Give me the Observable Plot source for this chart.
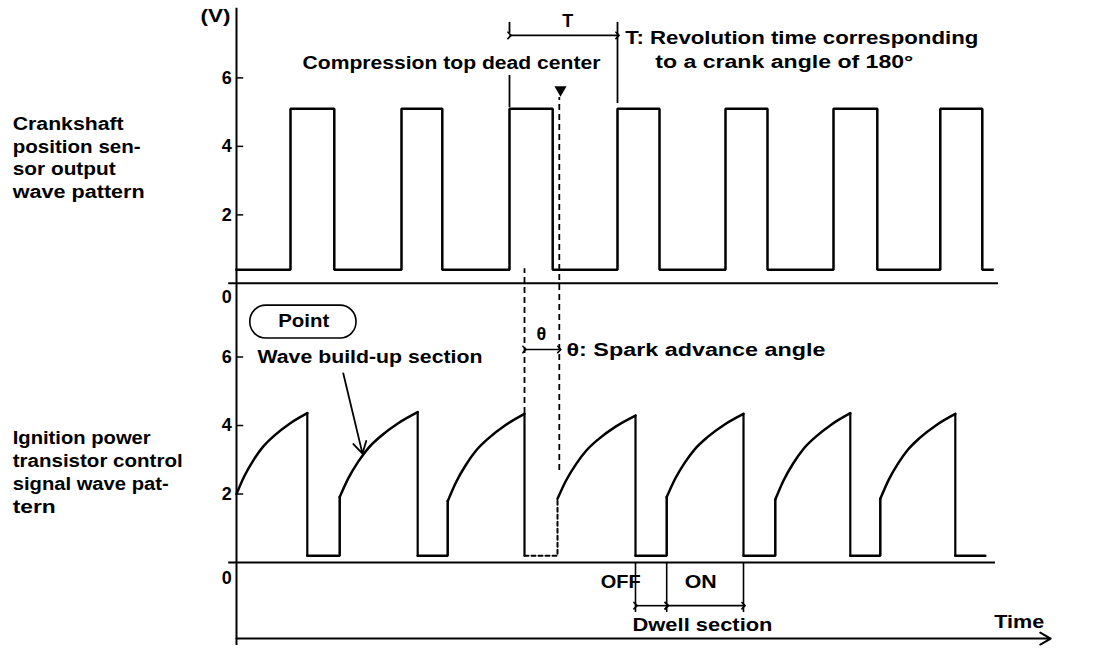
<!DOCTYPE html>
<html><head><meta charset="utf-8">
<script src="https://cdn.jsdelivr.net/npm/d3@7"></script>
<script src="https://cdn.jsdelivr.net/npm/@observablehq/plot@0.6"></script>
<style>body{margin:0;background:#fff}</style>
</head><body><div id="chart"></div>
<script>
// ---- data (time in crank-angle degrees, voltage in V) ----
const crankRise = [90, 275, 455, 635, 815, 995, 1173];
const crankFall = [163, 343, 527, 705, 885, 1068, 1243];
const crankEnd = 1260;
const crankLow = 0.4;
const crankHigh = 5.1;

const ignDrop = [118, 302, 480, 665, 845, 1023, 1198];
const ignRise = [172, 352, 535, 717, 898, 1073];
const ignEnd = 1248;
const ignRampStart = [2.0, 1.91, 1.79, 1.86, 1.91, 1.84, 1.86];
const ignPeak = [4.36, 4.39, 4.34, 4.29, 4.34, 4.36, 4.34];
const ignLow = 0.2;
const rampShapeT = [0, 0.11, 0.24, 0.37, 0.53, 0.75, 1];
const rampShapeV = [0, 0.22, 0.42, 0.58, 0.72, 0.87, 1];

const voltTicks = [2, 4, 6];
const tickLabels = ["2", "4", "6"];
const topOffset = 8.15;   // vertical offset of the upper panel (in V units)
const dashedCycle = 2;    // dwell low drawn dashed

// ---- build series ----
const crank = [{t: 0, v: crankLow}];
crankRise.forEach((r, i) => {
  crank.push({t: r, v: crankLow}, {t: r, v: crankHigh}, {t: crankFall[i], v: crankHigh}, {t: crankFall[i], v: crankLow});
});
crank.push({t: crankEnd, v: crankLow});
crank.forEach(d => d.y = d.v + topOffset);

const ramps = [];
ignDrop.forEach((end, i) => {
  const start = i === 0 ? 0 : ignRise[i - 1];
  rampShapeT.forEach((f, j) => ramps.push({ramp: i, t: start + f * (end - start), v: ignRampStart[i] + rampShapeV[j] * (ignPeak[i] - ignRampStart[i])}));
});
const drops = [], lows = [];
ignDrop.forEach((d, i) => {
  const next = i < ignRise.length ? ignRise[i] : ignEnd;
  drops.push({seg: i, t: d, v: ignPeak[i]}, {seg: i, t: d, v: ignLow});
  const low = [{seg: i, t: d, v: ignLow}, {seg: i, t: next, v: ignLow}];
  if (i < ignRise.length) low.push({seg: i, t: next, v: ignRampStart[i + 1]});
  low.forEach(p => { p.dashed = (i === dashedCycle); lows.push(p); });
});

const tickY = voltTicks.map(v => v + topOffset).concat(voltTicks);
const tickT = tickLabels.concat(tickLabels);

const F = 18;
const txt = (text, x, y, o = {}) => Plot.text([text], {x, y, text: d => d, textAnchor: "start", fontSize: F, fontWeight: "bold", fill: "black", ...o});

const plot = Plot.plot({
  width: 1120, height: 650, margin: 0,
  x: {domain: [-393.33, 1473.33], axis: null},
  y: {domain: [-2.569, 16.409], axis: null},
  style: {fontFamily: "'Liberation Sans', Arial, sans-serif", background: "#fff", color: "#000"},
  marks: [
    // axes
    Plot.ruleX([0], {y1: -2.42, y2: 16.18, strokeWidth: 2}),
    Plot.ruleY([topOffset], {x1: -13, x2: 1270, strokeWidth: 2}),
    Plot.ruleY([0], {x1: -13, x2: 1265, strokeWidth: 2}),
    Plot.ruleY(tickY, {x1: 0, x2: 12, strokeWidth: 1.5}),
    Plot.text(tickT, {x: -8, y: (d, i) => tickY[i], text: d => d, textAnchor: "end", fontSize: F, fontWeight: "bold"}),
    Plot.text(["0", "0"], {x: -8, y: [topOffset - 0.41, -0.47], text: d => d, textAnchor: "end", fontSize: F, fontWeight: "bold"}),
    Plot.arrow([0], {x1: 0, y1: -2.22, x2: 1357, y2: -2.22, headLength: 9, strokeWidth: 2}),

    // waveforms
    Plot.line(crank, {x: "t", y: "y", strokeWidth: 2.5, strokeLinejoin: "miter", strokeLinecap: "square"}),
    Plot.line(drops, {x: "t", y: "v", z: "seg", strokeWidth: 2.2}),
    Plot.line(lows.filter(d => !d.dashed), {x: "t", y: "v", z: "seg", strokeWidth: 2.5, strokeLinejoin: "miter"}),
    Plot.line(lows.filter(d => d.dashed), {x: "t", y: "v", z: "seg", strokeWidth: 2, strokeDasharray: "4,3"}),
    Plot.line(ramps, {x: "t", y: "v", z: "ramp", curve: "monotone-x", strokeWidth: 2.5}),

    // dashed reference lines
    Plot.ruleX([480], {y1: 4.35, y2: 8.58, strokeWidth: 1.8, strokeDasharray: "6,4"}),
    Plot.ruleX([538], {y1: 2.69, y2: 13.58, strokeWidth: 1.8, strokeDasharray: "6,4"}),
    Plot.dot([0], {x: 540, y: 13.8, symbol: "triangle", rotate: 180, r: 4.5, fill: "black"}),

    // T bracket
    Plot.ruleX([455], {y1: 15.45, y2: 15.77, strokeWidth: 1.8}),
    Plot.ruleX([455], {y1: 13.28, y2: 14.22, strokeWidth: 1.8}),
    Plot.ruleX([635], {y1: 13.40, y2: 15.77, strokeWidth: 1.8}),
    Plot.link([0], {x1: 455, x2: 635, y1: 15.39, y2: 15.39, markerStart: "arrow", markerEnd: "arrow", strokeWidth: 1.6}),

    // theta
    Plot.link([0], {x1: 480, x2: 538, y1: 6.22, y2: 6.22, markerStart: "arrow", markerEnd: "arrow", strokeWidth: 1.6}),

    // dwell bracket
    Plot.ruleX([665, 717, 845], {y1: -1.46, y2: 0, strokeWidth: 1.6}),
    Plot.link([0], {x1: 665, x2: 717, y1: -1.26, y2: -1.26, markerStart: "arrow", markerEnd: "arrow", strokeWidth: 1.6}),
    Plot.link([0], {x1: 717, x2: 845, y1: -1.26, y2: -1.26, markerStart: "arrow", markerEnd: "arrow", strokeWidth: 1.6}),

    // wave build-up arrow and Point box
    Plot.arrow([0], {x1: 178, y1: 5.52, x2: 210, y2: 3.18, headLength: 11, strokeWidth: 1.8}),
    Plot.rect([0], {x1: 23, x2: 200, y1: 6.54, y2: 7.50, rx: 16, fill: "none", stroke: "black", strokeWidth: 1.6}),

    // texts
    txt("(V)", -60, 15.94),
    txt("Compression top dead center", 110, 14.57),
    txt("T", 552, 15.80, {textAnchor: "middle"}),
    txt("T: Revolution time corresponding", 648, 15.30),
    txt("to a crank angle of 180°", 698, 14.60),
    txt("Crankshaft\nposition sen-\nsor output\nwave pattern", -373, 11.85, {lineHeight: 1.26}),
    txt("Ignition power\ntransistor control\nsignal wave pat-\ntern", -373, 2.67, {lineHeight: 1.27}),
    txt("Point", 112, 7.04, {textAnchor: "middle"}),
    txt("Wave build-up section", 35, 5.99),
    txt("θ", 508, 6.66, {textAnchor: "middle"}),
    txt("θ: Spark advance angle", 550, 6.19),
    txt("OFF", 607, -0.58),
    txt("ON", 747, -0.58),
    txt("Dwell section", 660, -1.84),
    txt("Time", 1263, -1.75)
  ]
});

// stretch texts to the widths seen in the reference
const fit = {
  "(V)": 30, "Compression top dead center": 298, "T: Revolution time corresponding": 353,
  "to a crank angle of 180°": 258, "Crankshaft": 111, "position sen-": 128, "sor output": 103,
  "wave pattern": 132, "Ignition power": 138, "transistor control": 170, "signal wave pat-": 156,
  "tern": 43, "Point": 51, "Wave build-up section": 225, "θ: Spark advance angle": 259,
  "OFF": 40, "ON": 32, "Dwell section": 140, "Time": 50
};
d3.select(plot).selectAll("text, tspan").each(function() {
  if (this.tagName === "text" && this.querySelector("tspan")) return;
  const w = fit[this.textContent];
  if (w) { this.setAttribute("textLength", w); this.setAttribute("lengthAdjust", "spacingAndGlyphs"); }
});
document.getElementById("chart").appendChild(plot);
</script>
</body></html>
